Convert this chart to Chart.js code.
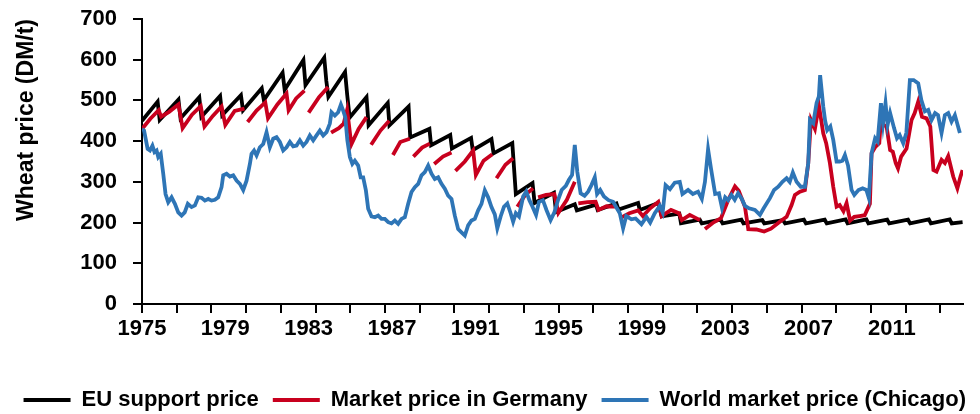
<!DOCTYPE html>
<html>
<head>
<meta charset="utf-8">
<script src="https://cdn.jsdelivr.net/npm/chart.js@4/dist/chart.umd.min.js"></script>
<style>
  html, body { margin: 0; padding: 0; background: #fff; overflow: hidden; }
  #wrap { width: 980px; height: 421px; }
</style>
</head>
<body>
<div id="wrap"><canvas id="wheat-chart"></canvas></div>
<script>
// tick labels
var yearLabels = [1975, 1979, 1983, 1987, 1991, 1995, 1999, 2003, 2007, 2011];
var priceTicks = [0, 100, 200, 300, 400, 500, 600, 700];

// [year, DM/t]
var supportPrice = [
    [1975.0, 450], [1975.75, 497], [1975.85, 452], [1976.75, 502], [1976.85, 456],
    [1977.75, 508], [1977.85, 460], [1978.75, 511], [1978.85, 464], [1979.75, 513],
    [1979.85, 476], [1980.75, 530], [1980.85, 501], [1981.75, 568], [1981.85, 526],
    [1982.75, 599], [1982.85, 538], [1983.75, 605], [1983.85, 548], [1983.95, 509],
    [1984.75, 570], [1984.85, 515], [1984.97, 458], [1985.78, 508], [1985.88, 439],
    [1986.8, 494], [1986.88, 439], [1987.8, 485], [1987.88, 409], [1988.8, 430],
    [1988.88, 390], [1989.8, 415], [1989.88, 382], [1990.8, 408], [1990.88, 378],
    [1991.78, 405], [1991.88, 370], [1992.78, 395], [1992.95, 270], [1993.75, 297],
    [1993.85, 248], [1994.78, 273], [1994.88, 226], [1995.78, 245], [1995.88, 230],
    [1996.8, 244], [1996.88, 231], [1997.78, 247], [1997.88, 232], [1998.82, 248],
    [1998.9, 231], [1999.79, 248], [1999.95, 215], [2000.8, 222], [2000.88, 198],
    [2001.78, 207], [2001.88, 198], [2002.78, 207], [2002.88, 198], [2003.78, 207],
    [2003.88, 198], [2004.78, 206], [2004.88, 198], [2005.78, 206], [2005.88, 198],
    [2006.78, 207], [2006.88, 198], [2007.78, 207], [2007.88, 198], [2008.78, 208],
    [2008.88, 198], [2009.78, 208], [2009.88, 198], [2010.78, 207], [2010.88, 198],
    [2011.78, 207], [2011.88, 198], [2012.78, 208], [2012.88, 198], [2013.78, 208],
    [2013.88, 198], [2014.4, 201]
];

var germanyPrice = [
    [1975.0, 430], [1975.4, 455], [1975.8, 476], [1975.92, 460], [1976.3, 472],
    [1976.75, 490], [1976.95, 432], [1977.4, 465], [1977.82, 486], [1978.0, 436],
    [1978.4, 462], [1978.82, 485], [1979.0, 440], [1979.45, 474], [1979.92, 480], [1979.99, null],
    [1980.07, 447], [1980.5, 475], [1980.92, 495], [1981.05, 456], [1981.5, 490],
    [1981.94, 517], [1982.04, 476], [1982.4, 505], [1982.8, 524], [1982.9, null],
    [1983.0, 470], [1983.5, 508], [1983.94, 533], [1984.0, null],
    [1984.08, 421], [1984.45, 432], [1984.68, 443], [1984.85, 477], [1985.05, 392],
    [1985.4, 430], [1985.78, 459], [1985.9, null],
    [1986.0, 391], [1986.45, 426], [1986.87, 450], [1986.95, null],
    [1987.05, 366], [1987.4, 398], [1987.86, 406], [1987.95, null],
    [1988.03, 362], [1988.45, 384], [1988.82, 394], [1988.95, null],
    [1989.03, 344], [1989.45, 362], [1989.86, 372], [1989.95, null],
    [1990.05, 327], [1990.5, 350], [1990.9, 377], [1991.03, 317], [1991.4, 352],
    [1991.82, 368], [1991.92, null],
    [1992.02, 309], [1992.45, 342], [1992.82, 358], [1992.92, null],
    [1993.02, 239], [1993.4, 268], [1993.78, 284], [1993.9, null],
    [1994.02, 262], [1994.4, 268], [1994.8, 270], [1994.99, 224], [1995.4, 256],
    [1995.78, 300], [1995.87, null],
    [1995.95, 247], [1996.4, 250], [1996.78, 251], [1996.92, 231], [1997.3, 240],
    [1997.75, 239], [1997.88, null],
    [1998.0, 212], [1998.4, 223], [1998.82, 230], [1999.05, 216], [1999.4, 235],
    [1999.79, 251], [1999.95, 216], [2000.4, 231], [2000.78, 223], [2000.92, 206],
    [2001.3, 219], [2001.79, 206], [2001.9, null],
    [2002.03, 184], [2002.4, 199], [2002.8, 211], [2003.15, 256], [2003.47, 289],
    [2003.65, 278], [2003.95, 239], [2004.11, 184], [2004.5, 183], [2004.87, 178],
    [2005.2, 185], [2005.7, 205], [2005.95, 214], [2006.19, 243], [2006.35, 268],
    [2006.59, 276], [2006.83, 280], [2006.99, 346], [2007.12, 452], [2007.31, 430],
    [2007.5, 488], [2007.71, 419], [2007.85, 395], [2008.03, 346], [2008.19, 288],
    [2008.35, 239], [2008.5, 243], [2008.68, 228], [2008.83, 248], [2009.0, 205],
    [2009.2, 214], [2009.45, 216], [2009.7, 218], [2009.95, 246], [2010.03, 370],
    [2010.2, 385], [2010.4, 395], [2010.48, 452], [2010.6, 440], [2010.75, 436],
    [2010.92, 378], [2011.05, 374], [2011.19, 346], [2011.3, 333], [2011.45, 362],
    [2011.71, 382], [2011.95, 452], [2012.1, 469], [2012.27, 497], [2012.45, 460],
    [2012.67, 456], [2012.85, 436], [2013.0, 329], [2013.15, 325], [2013.39, 354],
    [2013.55, 346], [2013.71, 363], [2013.95, 313], [2014.15, 284], [2014.3, 313],
    [2014.4, 329]
];

var chicagoPrice = [
    [1975.0, 430], [1975.1, 426], [1975.27, 381], [1975.38, 377], [1975.5, 389],
    [1975.6, 373], [1975.7, 377], [1975.78, 361], [1975.9, 369], [1976.02, 320],
    [1976.13, 270], [1976.26, 250], [1976.42, 262], [1976.58, 246], [1976.74, 225],
    [1976.9, 217], [1977.05, 225], [1977.2, 246], [1977.38, 238], [1977.54, 242],
    [1977.7, 262], [1977.86, 261], [1978.02, 254], [1978.18, 258], [1978.34, 254],
    [1978.5, 256], [1978.66, 262], [1978.82, 287], [1978.9, 316], [1979.06, 320],
    [1979.22, 313], [1979.38, 316], [1979.54, 303], [1979.7, 295], [1979.86, 280],
    [1980.02, 303], [1980.18, 344], [1980.26, 369], [1980.38, 377], [1980.5, 365],
    [1980.66, 385], [1980.82, 393], [1980.98, 422], [1981.14, 385], [1981.3, 406],
    [1981.46, 410], [1981.62, 398], [1981.78, 377], [1981.94, 385], [1982.1, 398],
    [1982.26, 387], [1982.42, 389], [1982.58, 402], [1982.74, 389], [1982.9, 398],
    [1983.06, 414], [1983.22, 402], [1983.38, 414], [1983.54, 426], [1983.7, 414],
    [1983.86, 422], [1984.02, 443], [1984.1, 471], [1984.26, 463], [1984.42, 471],
    [1984.55, 490], [1984.66, 475], [1984.76, 459], [1984.86, 402], [1984.98, 361],
    [1985.1, 344], [1985.22, 352], [1985.38, 340], [1985.5, 311], [1985.62, 311],
    [1985.75, 279], [1985.86, 234], [1986.02, 215], [1986.18, 213], [1986.34, 217],
    [1986.5, 209], [1986.66, 209], [1986.82, 201], [1986.98, 198], [1987.14, 205],
    [1987.3, 197], [1987.46, 209], [1987.62, 213], [1987.78, 246], [1987.94, 275],
    [1988.1, 287], [1988.26, 295], [1988.42, 316], [1988.58, 324], [1988.74, 340],
    [1988.9, 320], [1989.06, 307], [1989.22, 311], [1989.38, 295], [1989.54, 283],
    [1989.7, 266], [1989.86, 258], [1990.02, 217], [1990.18, 184], [1990.34, 176],
    [1990.5, 168], [1990.66, 193], [1990.82, 205], [1990.98, 209], [1991.14, 230],
    [1991.3, 246], [1991.46, 279], [1991.62, 262], [1991.78, 238], [1991.94, 220],
    [1992.06, 186], [1992.22, 215], [1992.38, 239], [1992.54, 247], [1992.7, 223],
    [1992.82, 202], [1992.95, 223], [1993.1, 215], [1993.3, 264], [1993.45, 276],
    [1993.6, 255], [1993.75, 239], [1993.92, 219], [1994.06, 251], [1994.25, 255],
    [1994.42, 231], [1994.62, 206], [1994.8, 225], [1994.98, 256], [1995.15, 280],
    [1995.35, 290], [1995.5, 305], [1995.65, 317], [1995.78, 391], [1995.9, 325],
    [1996.06, 272], [1996.25, 266], [1996.42, 276], [1996.58, 292], [1996.74, 311],
    [1996.85, 270], [1997.0, 280], [1997.18, 264], [1997.4, 255], [1997.62, 251],
    [1997.78, 237], [1997.94, 223], [1998.1, 186], [1998.25, 216], [1998.5, 208],
    [1998.7, 210], [1998.98, 196], [1999.22, 214], [1999.4, 200], [1999.62, 223],
    [1999.86, 241], [2000.0, 225], [2000.14, 292], [2000.35, 282], [2000.58, 298],
    [2000.82, 300], [2000.95, 270], [2001.22, 280], [2001.45, 270], [2001.7, 276],
    [2001.88, 258], [2002.03, 300], [2002.18, 380], [2002.32, 333], [2002.52, 270],
    [2002.7, 272], [2002.85, 236], [2003.0, 262], [2003.14, 255], [2003.3, 268],
    [2003.46, 256], [2003.62, 272], [2003.8, 258], [2003.95, 241], [2004.15, 235],
    [2004.43, 231], [2004.67, 219], [2004.85, 235], [2005.15, 260], [2005.35, 280],
    [2005.55, 288], [2005.75, 300], [2005.95, 309], [2006.1, 300], [2006.25, 323],
    [2006.43, 300], [2006.63, 288], [2006.83, 288], [2006.99, 346], [2007.07, 452],
    [2007.23, 444], [2007.39, 494], [2007.5, 510], [2007.56, 562], [2007.71, 485],
    [2007.8, 450], [2007.9, 427], [2008.05, 436], [2008.19, 403], [2008.35, 350],
    [2008.5, 350], [2008.63, 352], [2008.75, 366], [2008.9, 340], [2009.07, 280],
    [2009.2, 268], [2009.4, 280], [2009.6, 284], [2009.78, 280], [2009.9, 260],
    [2010.03, 370], [2010.2, 407], [2010.32, 399], [2010.48, 493], [2010.58, 444],
    [2010.7, 493], [2010.8, 440], [2010.92, 469], [2011.11, 432], [2011.25, 407],
    [2011.38, 415], [2011.55, 395], [2011.7, 420], [2011.87, 550], [2012.05, 550],
    [2012.27, 542], [2012.42, 501], [2012.59, 473], [2012.75, 477], [2012.91, 452],
    [2013.08, 469], [2013.22, 464], [2013.39, 420], [2013.55, 464], [2013.71, 469],
    [2013.87, 448], [2014.03, 464], [2014.27, 420]
];

var FONT = "'Liberation Sans', Arial, sans-serif";
var TICK_MONTHS = 20;

function toPoints(list) {
    return list.map(function (p) { return { x: p[0], y: p[1] }; });
}

function isTickMark(v) {
    var m = Math.round((v - 1975) * 12);
    return m % TICK_MONTHS === 0;
}

function isYearLabel(v) {
    return yearLabels.some(function (y) { return Math.abs(y - v) < 1e-6; });
}

var series = {
    borderWidth: 3.8,
    pointRadius: 0,
    tension: 0,
    spanGaps: false,
    fill: false
};

var ctx = document.getElementById('wheat-chart').getContext('2d');
var chart = new Chart(ctx, {
    type: 'line',
    data: {
        datasets: [
            Object.assign({ label: 'World market price (Chicago)', data: toPoints(chicagoPrice),
                borderColor: '#2e75b6', backgroundColor: '#2e75b6' }, series),
            Object.assign({ label: 'Market price in Germany', data: toPoints(germanyPrice),
                borderColor: '#c8001e', backgroundColor: '#c8001e' }, series),
            Object.assign({ label: 'EU support price', data: toPoints(supportPrice),
                borderColor: '#000000', backgroundColor: '#000000' }, series)
        ]
    },
    options: {
        responsive: true,
        maintainAspectRatio: false,
        animation: false,
        layout: { padding: { top: 19, right: 0, bottom: 0, left: 0 } },
        plugins: {
            tooltip: { enabled: false },
            legend: {
                position: 'bottom',
                align: 'end',
                reverse: true,
                labels: {
                    boxWidth: 47,
                    boxHeight: 4,
                    padding: 14,
                    color: '#000',
                    font: { family: FONT, size: 22, weight: 'bold' },
                    generateLabels: function (c) {
                        return Chart.defaults.plugins.legend.labels.generateLabels(c).map(function (l) {
                            l.lineWidth = 0;
                            return l;
                        });
                    }
                }
            }
        },
        scales: {
            x: {
                type: 'linear',
                min: 1975,
                max: 2014.42,
                afterBuildTicks: function (scale) {
                    var vals = yearLabels.slice();
                    for (var m = 0; 1975 + m / 12 <= 2014.42; m += TICK_MONTHS) {
                        var v = 1975 + m / 12;
                        if (!isYearLabel(v)) vals.push(v);
                    }
                    vals.sort(function (a, b) { return a - b; });
                    scale.ticks = vals.map(function (v) { return { value: v }; });
                },
                afterFit: function (scale) { scale.height = 71; },
                grid: {
                    display: true,
                    drawOnChartArea: false,
                    drawTicks: true,
                    tickLength: 9,
                    lineWidth: 2,
                    tickColor: function (c) {
                        return c.tick && isTickMark(c.tick.value) ? '#000' : 'rgba(0,0,0,0)';
                    }
                },
                border: { display: true, color: '#000', width: 2 },
                ticks: {
                    autoSkip: false,
                    maxRotation: 0,
                    minRotation: 0,
                    padding: 3,
                    color: '#000',
                    font: { family: FONT, size: 22, weight: 'bold' },
                    callback: function (v) { return isYearLabel(v) ? String(Math.round(v)) : ''; }
                }
            },
            y: {
                min: 0,
                max: 700,
                afterBuildTicks: function (scale) {
                    scale.ticks = priceTicks.map(function (v) { return { value: v }; });
                },
                afterFit: function (scale) {
                    scale.width = 142;
                    scale.paddingTop = 0;
                    scale.paddingBottom = 0;
                },
                grid: {
                    display: true,
                    drawOnChartArea: false,
                    drawTicks: true,
                    tickLength: 9,
                    lineWidth: 2,
                    tickColor: '#000'
                },
                border: { display: true, color: '#000', width: 2 },
                ticks: {
                    autoSkip: false,
                    padding: 16,
                    color: '#000',
                    font: { family: FONT, size: 22, weight: 'bold' }
                },
                title: {
                    display: true,
                    text: 'Wheat price (DM/t)',
                    align: 'end',
                    color: '#000',
                    padding: { top: 13, bottom: 0 },
                    font: { family: FONT, size: 23, weight: 'bold' }
                }
            },
            // empty strip on the right so the plot stops short of the legend's right edge
            gutter: {
                position: 'right',
                display: true,
                afterFit: function (scale) { scale.width = 17; },
                grid: { display: false },
                border: { display: false },
                ticks: { display: false }
            }
        }
    }
});
</script>
</body>
</html>
